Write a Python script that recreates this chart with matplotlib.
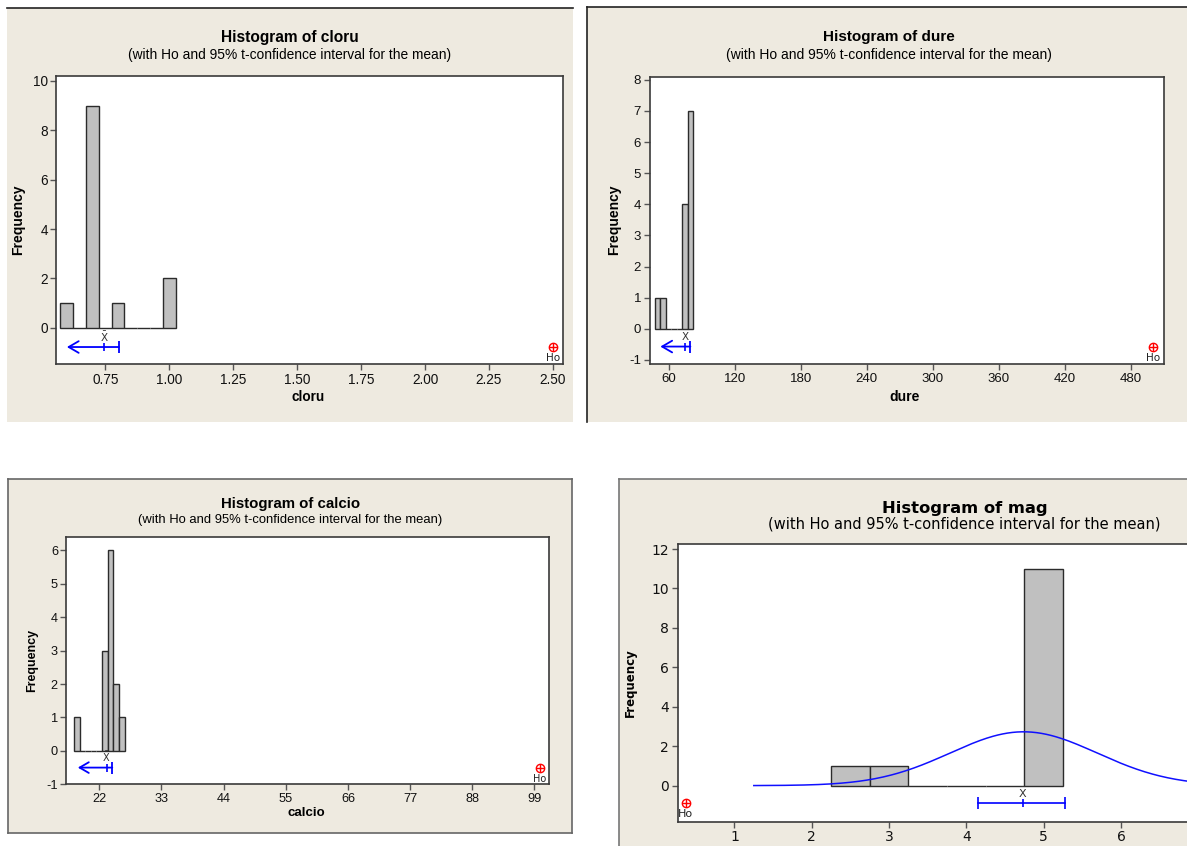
#!/usr/bin/env python3
"""Four Minitab-style one-sample t histograms (cloru, dure, calcio, mag)."""

import matplotlib

matplotlib.use("Agg")
import matplotlib.pyplot as plt
import numpy as np
from matplotlib import font_manager
from matplotlib.lines import Line2D
from matplotlib.patches import Rectangle

W, H = 1187, 846
BEIGE = "#EEEAE0"
BAR = "#C0C0C0"
FRAME = "#3a3a3a"

plt.rcParams["axes.unicode_minus"] = False

_names = {f.name for f in font_manager.fontManager.ttflist}
NARROW = "Liberation Sans" if "Liberation Sans" in _names else "DejaVu Sans"
WIDE = "DejaVu Sans"

SUBTITLE = "(with Ho and 95% t-confidence interval for the mean)"

# --- cloru ---
cloru_centers = [0.60, 0.65, 0.70, 0.75, 0.80, 0.85, 0.90, 0.95, 1.00]
cloru_counts = [1, 0, 9, 0, 1, 0, 0, 0, 2]
cloru_bin = 0.05
cloru_mean = 0.746
cloru_ci = (0.60, 0.803)  # lower end is the arrow head (one-sided)
cloru_ho = 2.50
cloru_xticks = [0.75, 1.00, 1.25, 1.50, 1.75, 2.00, 2.25, 2.50]
cloru_xlabels = ["0.75", "1.00", "1.25", "1.50", "1.75", "2.00", "2.25", "2.50"]
cloru_yticks = [0, 2, 4, 6, 8, 10]

# --- dure ---
dure_centers = [50, 55, 60, 65, 70, 75, 80]
dure_counts = [1, 1, 0, 0, 0, 4, 7]
dure_bin = 5
dure_mean = 74.8
dure_ci = (52.5, 79.8)
dure_ho = 500
dure_xticks = [60, 120, 180, 240, 300, 360, 420, 480]
dure_yticks = [-1, 0, 1, 2, 3, 4, 5, 6, 7, 8]

# --- calcio ---
calcio_centers = [18, 19, 20, 21, 22, 23, 24, 25, 26]
calcio_counts = [1, 0, 0, 0, 0, 3, 6, 2, 1]
calcio_bin = 1
calcio_mean = 23.3
calcio_ci = (18.2, 24.3)
calcio_ho = 100
calcio_xticks = [22, 33, 44, 55, 66, 77, 88, 99]
calcio_yticks = [-1, 0, 1, 2, 3, 4, 5, 6]

# --- mag ---
mag_centers = [2.5, 3.0, 3.5, 4.0, 4.5, 5.0]
mag_counts = [1, 1, 0, 0, 0, 11]
mag_bin = 0.5
mag_mean = 4.73
mag_ci = (4.15, 5.28)  # two-sided
mag_ho = 0.37
mag_fit_mean = 4.74
mag_fit_sd = 0.95
mag_fit_start = 1.25
mag_xticks = [1, 2, 3, 4, 5, 6]
mag_yticks = [0, 2, 4, 6, 8, 10, 12]


def fx(x):
    return x / W


def fy(y):
    return 1 - y / H


def px_axes(fig, left, top, right, bottom):
    return fig.add_axes([fx(left), fy(bottom), (right - left) / W, (bottom - top) / H])


def panel_bg(fig, x0, y0, x1, y1, sides, color="#222222"):
    fig.patches.append(Rectangle((fx(x0), fy(y1)), (x1 - x0) / W, (y1 - y0) / H,
                                 transform=fig.transFigure, facecolor=BEIGE,
                                 edgecolor="none", zorder=-2))
    segs = {
        "top": ([x0, x1], [y0, y0]),
        "bottom": ([x0, x1], [y1, y1]),
        "left": ([x0, x0], [y0, y1]),
        "right": ([x1, x1], [y0, y1]),
    }
    for side in sides:
        xs, ys = segs[side]
        fig.add_artist(Line2D([fx(v) for v in xs], [fy(v) for v in ys],
                              transform=fig.transFigure, color=color, lw=1.2,
                              zorder=-1))


def ftext(fig, x, y, s, **kw):
    fig.text(fx(x), fy(y), s, ha="center", va="center", **kw)


def style_axes(ax, family, size):
    for sp in ax.spines.values():
        sp.set_color(FRAME)
        sp.set_linewidth(1.2)
    ax.tick_params(direction="out", length=4, width=1, color="#555555",
                   labelsize=size, pad=2, top=False, right=False)
    for lab in ax.get_xticklabels() + ax.get_yticklabels():
        lab.set_family(family)
        lab.set_color("#111111")


def draw_hist(ax, centers, counts, width):
    ax.bar(centers, counts, width=width, color=BAR, edgecolor="#2b2b2b",
           linewidth=1.0, zorder=2)


def draw_ci(ax, mean, ci, y, one_sided, xbar_size, head_scale=12):
    lo, hi = ci
    if one_sided:
        ax.annotate("", xy=(lo, y), xytext=(hi, y),
                    arrowprops=dict(arrowstyle="->,head_length=0.6,head_width=0.35",
                                    color="blue", lw=1.3, mutation_scale=head_scale,
                                    shrinkA=0, shrinkB=0), zorder=3)
        ax.plot([hi], [y], marker="|", ms=9, mew=1.3, color="blue", zorder=3)
    else:
        ax.plot([lo, hi], [y, y], color="blue", lw=1.2, zorder=3)
        ax.plot([lo, hi], [y, y], ls="none", marker="|", ms=8, mew=1.2,
                color="blue", zorder=3)
    ax.plot([mean], [y], marker="|", ms=6, mew=1.2, color="blue", zorder=3)
    ax.annotate(r"$\bar{\mathrm{X}}$", (mean, y), xytext=(0, 7.5),
                textcoords="offset points", ha="center", va="center",
                fontsize=xbar_size, color="#333333")


def draw_ho(ax, ho, y, size):
    ax.plot([ho], [y], marker="o", ms=6, mfc="none", mec="red", mew=1.0,
            zorder=4, clip_on=False)
    ax.plot([ho], [y], marker="+", ms=6, mew=1.0, color="red", zorder=4,
            clip_on=False)
    ax.annotate("Ho", (ho, y), xytext=(0, -8), textcoords="offset points",
                ha="center", va="center", fontsize=size, color="#222222")


def main():
    fig = plt.figure(figsize=(W / 100, H / 100), dpi=100)
    fig.patch.set_facecolor("white")

    # ---------------- panel 1: cloru ----------------
    panel_bg(fig, 7, 8, 572.7, 421.7, ["top"])
    ax = px_axes(fig, 56.4, 76, 563.2, 364.3)
    draw_hist(ax, cloru_centers, cloru_counts, cloru_bin)
    draw_ci(ax, cloru_mean, cloru_ci, -0.78, True, 7.5)
    draw_ho(ax, cloru_ho, -0.78, 7.5)
    ax.set_xlim(0.559, 2.540)
    ax.set_ylim(-1.48, 10.2)
    ax.set_xticks(cloru_xticks, cloru_xlabels)
    ax.set_yticks(cloru_yticks)
    style_axes(ax, NARROW, 9.8)
    ftext(fig, 289.7, 37.5, "Histogram of cloru", family=NARROW, fontsize=11.2,
          fontweight="bold")
    ftext(fig, 289.7, 55, SUBTITLE, family=NARROW, fontsize=9.9)
    ftext(fig, 18, 220, "Frequency", family=NARROW, fontsize=10, fontweight="bold",
          rotation=90)
    ftext(fig, 307.7, 397, "cloru", family=NARROW, fontsize=9.8, fontweight="bold")

    # ---------------- panel 2: dure ----------------
    panel_bg(fig, 587.3, 7.3, 1187, 421.7, ["top", "left"])
    ax = px_axes(fig, 649.5, 76.7, 1163.6, 364.3)
    draw_hist(ax, dure_centers, dure_counts, dure_bin)
    draw_ci(ax, dure_mean, dure_ci, -0.57, True, 7.5)
    draw_ho(ax, dure_ho, -0.57, 7.5)
    ax.set_xlim(42.65, 509.6)
    ax.set_ylim(-1.14, 8.1)
    ax.set_xticks(dure_xticks)
    ax.set_yticks(dure_yticks)
    style_axes(ax, NARROW, 9.5)
    ftext(fig, 888.5, 37, "Histogram of dure", family=NARROW, fontsize=11,
          fontweight="bold")
    ftext(fig, 888.5, 55, SUBTITLE, family=NARROW, fontsize=10)
    ftext(fig, 614, 220, "Frequency", family=NARROW, fontsize=10, fontweight="bold",
          rotation=90)
    ftext(fig, 905, 397, "dure", family=NARROW, fontsize=10, fontweight="bold")

    # ---------------- panel 3: calcio ----------------
    panel_bg(fig, 7.5, 478.7, 571.7, 832.7, ["top", "left", "right", "bottom"],
             color="#666666")
    ax = px_axes(fig, 66.3, 536.7, 549.1, 784.3)
    draw_hist(ax, calcio_centers, calcio_counts, calcio_bin)
    draw_ci(ax, calcio_mean, calcio_ci, -0.5, True, 7, head_scale=11)
    draw_ho(ax, calcio_ho, -0.5, 7)
    ax.set_xlim(16.16, 101.6)
    ax.set_ylim(-1.0, 6.41)
    ax.set_xticks(calcio_xticks)
    ax.set_yticks(calcio_yticks)
    style_axes(ax, NARROW, 9.2)
    ftext(fig, 290.5, 504, "Histogram of calcio", family=NARROW, fontsize=10.8,
          fontweight="bold")
    ftext(fig, 290.3, 520, SUBTITLE, family=NARROW, fontsize=9.4)
    ftext(fig, 32, 660, "Frequency", family=NARROW, fontsize=9, fontweight="bold",
          rotation=90)
    ftext(fig, 306, 813, "calcio", family=NARROW, fontsize=9.5, fontweight="bold")

    # ---------------- panel 4: mag (cropped on the right) ----------------
    panel_bg(fig, 619, 479, 1200, 860, ["top", "left"], color="#777777")
    ax = px_axes(fig, 677.5, 544.3, 1230, 821.7)
    draw_hist(ax, mag_centers, mag_counts, mag_bin)
    xs = np.linspace(mag_fit_start, 7.5, 300)
    scale = sum(mag_counts) * mag_bin
    dens = scale / (mag_fit_sd * np.sqrt(2 * np.pi)) * np.exp(
        -0.5 * ((xs - mag_fit_mean) / mag_fit_sd) ** 2)
    ax.plot(xs, dens, color="#1010ff", lw=1.1, zorder=3)
    draw_ci(ax, mag_mean, mag_ci, -0.9, False, 8)
    draw_ho(ax, mag_ho, -0.9, 8)
    ax.set_xlim(0.263, 7.41)
    ax.set_ylim(-1.83, 12.24)
    ax.set_xticks(mag_xticks)
    ax.set_yticks(mag_yticks)
    style_axes(ax, WIDE, 10)
    ftext(fig, 965, 508, "Histogram of mag", family=WIDE, fontsize=11.8,
          fontweight="bold")
    ftext(fig, 964, 524, SUBTITLE, family=WIDE, fontsize=10.5)
    ftext(fig, 630, 683, "Frequency", family=WIDE, fontsize=8.5, fontweight="bold",
          rotation=90)

    fig.savefig("out.png", dpi=100, facecolor=fig.get_facecolor())


if __name__ == "__main__":
    main()
